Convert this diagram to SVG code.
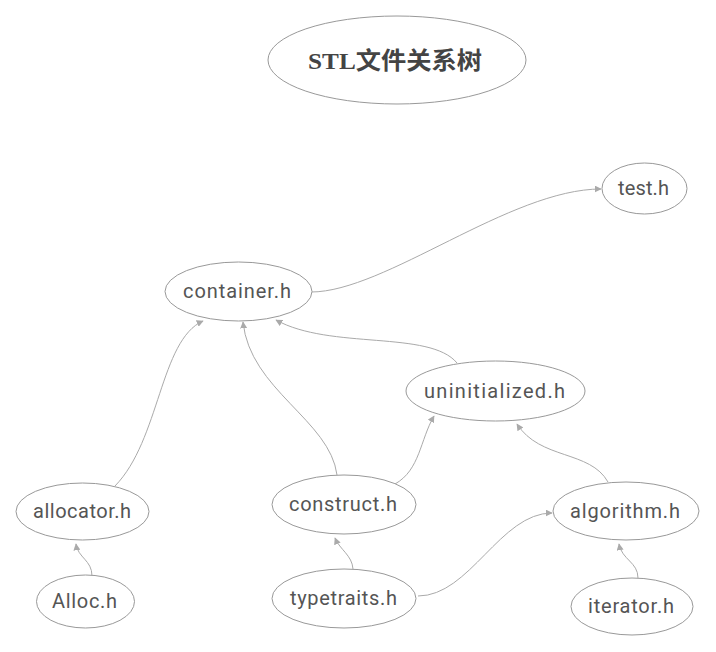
<svg xmlns="http://www.w3.org/2000/svg" width="716" height="652" viewBox="0 0 716 652">
<style>
.n ellipse{fill:#fff;stroke:#999;stroke-width:1}
.n text{font-family:Roboto,"Liberation Sans",sans-serif;font-size:20px;fill:#555;text-anchor:middle}
.t text{font-family:"Liberation Serif","Noto Sans CJK SC",serif;font-size:24px;font-weight:bold;fill:#444;text-anchor:middle}
.e path{fill:none;stroke:#aaa;stroke-width:1;marker-end:url(#a)}
</style>
<defs>
<marker id="a" viewBox="0 0 10 10" refX="9" refY="5" markerWidth="7" markerHeight="7" orient="auto" markerUnits="userSpaceOnUse">
<path d="M0,0 L10,5 L0,10 z" fill="#aaa"/>
</marker>
</defs>
<rect width="716" height="652" fill="#fff"/>
<g id="edges" class="e">
<path d="M311,292 C385,292 510,189 601,189"/>
<path d="M115,486 C160,440 160,340 203,321"/>
<path d="M337,475 C330,420 250,390 243,322"/>
<path d="M457,363 C430,330 330,350 276,320"/>
<path d="M395,484 C420,470 420,440 434,416"/>
<path d="M608,482 C590,450 540,460 517,424"/>
<path d="M353,569 C352,555 340,550 335,538"/>
<path d="M418,596 C470,596 500,513 552,513"/>
<path d="M638,578 C638,562 622,560 619,544"/>
<path d="M92,576 C92,560 78,558 76,544"/>
</g>
<g id="title" class="n t"><ellipse cx="397" cy="60" rx="129" ry="44"/><text x="395" y="69" textLength="174" lengthAdjust="spacingAndGlyphs">STL文件关系树</text></g>
<g id="test" class="n"><ellipse cx="644.5" cy="188.5" rx="42.5" ry="25.5"/><text x="643.5" y="195" textLength="51">test.h</text></g>
<g id="container" class="n"><ellipse cx="238.5" cy="291.5" rx="73.5" ry="29.5"/><text x="237" y="298" textLength="108">container.h</text></g>
<g id="uninitialized" class="n"><ellipse cx="495.5" cy="391" rx="89.5" ry="30"/><text x="494.5" y="397.5" textLength="141">uninitialized.h</text></g>
<g id="allocator" class="n"><ellipse cx="82.5" cy="511.5" rx="66.5" ry="28.5"/><text x="82" y="518" textLength="98">allocator.h</text></g>
<g id="construct" class="n"><ellipse cx="344" cy="504.5" rx="72" ry="29.5"/><text x="343" y="511" textLength="108">construct.h</text></g>
<g id="algorithm" class="n"><ellipse cx="626" cy="511" rx="73" ry="29"/><text x="625" y="517.5" textLength="110">algorithm.h</text></g>
<g id="Alloc" class="n"><ellipse cx="85.5" cy="601.5" rx="49" ry="26.5"/><text x="84.5" y="608" textLength="65">Alloc.h</text></g>
<g id="typetraits" class="n"><ellipse cx="344" cy="598.5" rx="72" ry="29.5"/><text x="343.5" y="605" textLength="107">typetraits.h</text></g>
<g id="iterator" class="n"><ellipse cx="632" cy="606.5" rx="61" ry="28.5"/><text x="631" y="613" textLength="86">iterator.h</text></g>
</svg>
